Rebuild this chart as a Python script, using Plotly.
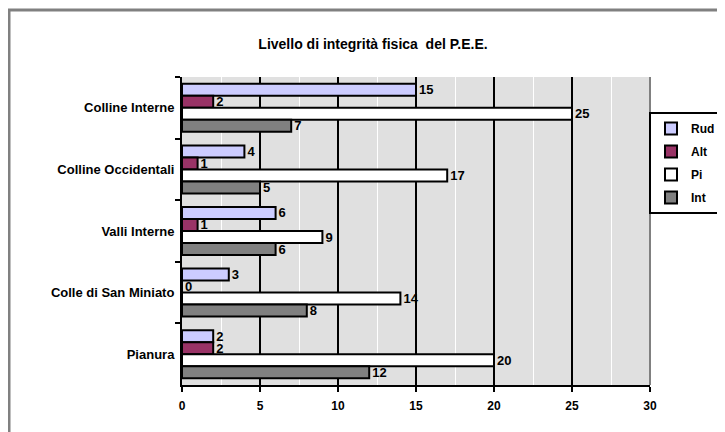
import plotly.graph_objects as go

# Categories top to bottom
zone = ["Colline Interne", "Colline Occidentali", "Valli Interne",
        "Colle di San Miniato", "Pianura"]

rud = [15, 4, 6, 3, 2]
alt = [2, 1, 1, 0, 2]
pi = [25, 17, 9, 14, 20]
int_ = [7, 5, 6, 8, 12]

series = [("Rud", rud, "#CCCCFF"),
          ("Alt", alt, "#993366"),
          ("Pi", pi, "#FFFFFF"),
          ("Int", int_, "#808080")]


def bold(size):
    return dict(family="Arial, Liberation Sans, sans-serif", size=size,
                color="black", weight="bold")


# plot area in figure pixels
L, T, W, H = 174, 69, 468, 308

fig = go.Figure()
for name, vals, col in series:
    fig.add_trace(go.Bar(
        y=zone, x=vals, name=name, orientation="h",
        marker=dict(color=col, line=dict(color="black", width=2)),
        text=vals, textposition="outside", textfont=bold(13),
        constraintext="none", cliponaxis=False,
        legendgroup=name,
    ))

fig.update_layout(
    width=725, height=432,
    margin=dict(l=L, r=725 - L - W, t=T, b=432 - T - H, autoexpand=False),
    paper_bgcolor="white", plot_bgcolor="#E0E0E0",
    barmode="group", bargap=0.22, bargroupgap=0,
    font=bold(12),
    title=dict(text="Livello di integrità fisica  del P.E.E.",
               x=365 / 725, xref="container", y=1 - 36 / 432,
               yref="container", xanchor="center", yanchor="middle",
               font=bold(14)),
    legend=dict(x=(641 - L) / W, y=(T + H - 104) / H,
                xanchor="left", yanchor="top",
                bgcolor="white", bordercolor="black", borderwidth=2,
                font=bold(12), traceorder="grouped", tracegroupgap=4,
                itemwidth=30),
    showlegend=True,
)

fig.update_xaxes(
    range=[0, 30], dtick=5, tick0=0,
    showgrid=True, gridcolor="black", gridwidth=2,
    minor=dict(dtick=2.5, showgrid=True, gridcolor="white", gridwidth=1),
    showline=True, linecolor="black", linewidth=2,
    ticks="outside", ticklen=5, tickwidth=2, tickcolor="black",
    tickfont=bold(12), zeroline=False, ticklabelstandoff=4,
)
fig.update_yaxes(
    autorange="reversed", showgrid=False,
    showline=True, linecolor="black", linewidth=2,
    ticks="outside", tickson="boundaries", ticklen=5, tickwidth=2,
    tickcolor="black", tickfont=bold(13), ticklabelstandoff=3,
)

# plot area right edge and outer frame
fig.add_shape(type="line", xref="paper", yref="paper", x0=1, x1=1,
              y0=0, y1=1, line=dict(color="#808080", width=2))
fig.add_shape(type="rect", xref="paper", yref="paper",
              x0=(1 - L) / W, x1=1.4, y0=-0.5, y1=(T + H - 2) / H,
              line=dict(color="#808080", width=3), layer="below")

fig.write_html("out.html")
